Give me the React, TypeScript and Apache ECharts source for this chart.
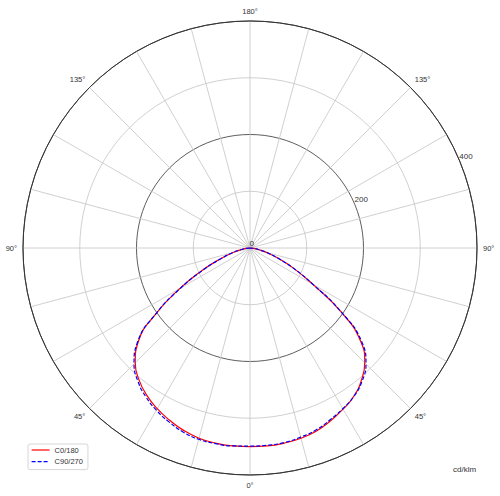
import React, { useEffect, useRef } from 'react'
import * as echarts from 'echarts'

// gamma angles (deg) from nadir, 0..90
const GAMMA = [0, 5, 10, 15, 20, 25, 30, 35, 40, 45, 50, 55, 60, 65, 70, 75, 80, 85, 90]

// intensities in cd/klm
const C0 = [350, 350, 349, 347, 343, 336, 328, 319, 305, 286, 254, 195, 128, 85, 52, 30, 15, 6, 0]
const C180 = [350, 350, 349, 347, 342, 335, 327, 317, 304, 286, 257, 203, 143, 92, 55, 31, 15, 6, 0]
const C90 = [349, 349, 348, 345, 341, 334, 327, 319, 307, 289, 257, 196, 128, 85, 52, 30, 15, 6, 0]
const C270 = [349, 350, 350, 349, 345, 338, 330, 320, 307, 289, 259, 203, 141, 90, 54, 31, 15, 6, 0]

const SERIES_NAMES = ['C0/180', 'C90/270']
const RADIUS_TICKS = [0, 100, 200, 300, 400]
const UNIT = 'cd/klm'

const FONT = 'Liberation Sans'

// left half: angle value = gamma, right half: angle value = 360 - gamma
const buildCurve = (right: number[], left: number[]) => {
    const pts: number[][] = []
    for (let i = GAMMA.length - 1; i >= 0; i--) pts.push([left[i], GAMMA[i]])
    for (let i = 1; i < GAMMA.length; i++) pts.push([right[i], 360 - GAMMA[i]])
    return pts
}

const App: React.FC = () => {
    const chartRef = useRef<HTMLDivElement | null>(null)

    useEffect(() => {
        document.body.style.margin = '0'
        if (!chartRef.current) return
        const chart = echarts.init(chartRef.current, undefined, { renderer: 'svg' })

        const center = [250, 248]
        const radius = 227

        chart.setOption({
            animation: false,
            backgroundColor: '#fff',
            textStyle: { fontFamily: FONT },
            polar: [
                { center, radius },
                { center, radius },
            ],
            angleAxis: [
                {
                    polarIndex: 0,
                    type: 'value',
                    min: 0,
                    max: 360,
                    interval: 15,
                    startAngle: 270,
                    clockwise: true,
                    axisLine: { lineStyle: { color: '#333', width: 1 } },
                    axisTick: { show: false },
                    axisLabel: {
                        color: '#333',
                        fontSize: 7.5,
                        margin: 6,
                        formatter: (v: number) => {
                            if (v % 45 !== 0 || v === 360) return ''
                            return (v <= 180 ? v : 360 - v) + '°'
                        },
                    },
                    splitLine: { lineStyle: { color: '#c4c4c4', width: 0.8 } },
                },
                {
                    polarIndex: 1,
                    type: 'value',
                    min: 0,
                    max: 360,
                    startAngle: 22.5,
                    show: false,
                },
            ],
            radiusAxis: [
                {
                    polarIndex: 0,
                    min: RADIUS_TICKS[0],
                    max: RADIUS_TICKS[RADIUS_TICKS.length - 1],
                    interval: 100,
                    axisLine: { show: false },
                    axisTick: { show: false },
                    axisLabel: { show: false },
                    splitLine: {
                        show: true,
                        lineStyle: { color: ['#c4c4c4', '#c4c4c4', '#333', '#c4c4c4', '#333'], width: 0.8 },
                    },
                },
                {
                    polarIndex: 1,
                    min: 0,
                    max: 400,
                    interval: 200,
                    axisLine: { show: false },
                    axisTick: { show: false },
                    splitLine: { show: false },
                    axisLabel: {
                        color: '#333',
                        fontSize: 8,
                        margin: 1,
                        align: 'left',
                        verticalAlign: 'bottom',
                    },
                },
            ],
            legend: {
                data: SERIES_NAMES,
                orient: 'vertical',
                left: 28,
                top: 444,
                itemWidth: 18,
                itemHeight: 9,
                itemGap: 3.6,
                padding: [2, 5, 4, 3],
                borderColor: '#ccc',
                borderWidth: 0.8,
                borderRadius: 2,
                backgroundColor: '#fff',
                itemStyle: { opacity: 0 },
                lineStyle: { width: 1.2 },
                textStyle: { fontSize: 7.5, color: '#333', fontFamily: FONT },
            },
            graphic: [
                {
                    type: 'text',
                    left: 453,
                    top: 465,
                    style: { text: UNIT, fill: '#333', font: `8px "${FONT}"` },
                },
            ],
            series: [
                {
                    name: SERIES_NAMES[0],
                    type: 'line',
                    coordinateSystem: 'polar',
                    polarIndex: 0,
                    symbol: 'none',
                    smooth: true,
                    lineStyle: { color: '#ff0000', width: 1.2 },
                    itemStyle: { color: '#ff0000' },
                    data: buildCurve(C0, C180),
                },
                {
                    name: SERIES_NAMES[1],
                    type: 'line',
                    coordinateSystem: 'polar',
                    polarIndex: 0,
                    symbol: 'none',
                    smooth: true,
                    lineStyle: { color: '#0000ff', width: 1.2, type: [4, 2] },
                    itemStyle: { color: '#0000ff' },
                    data: buildCurve(C90, C270),
                },
            ],
        })

        return () => {
            chart.dispose()
        }
    }, [])

    return <div ref={chartRef} style={{ width: '500px', height: '496px' }} />
}

export default App
